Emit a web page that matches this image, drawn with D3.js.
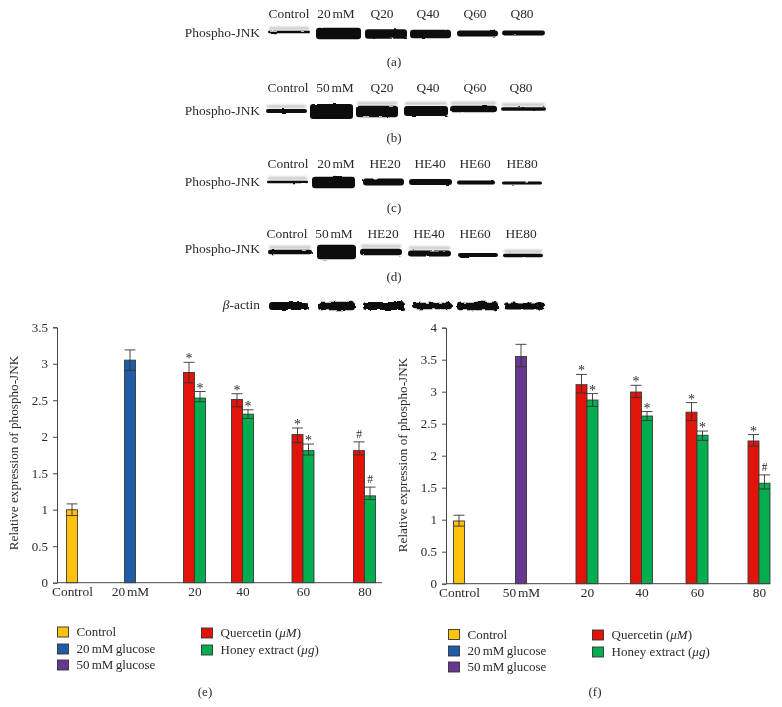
<!DOCTYPE html>
<html><head><meta charset="utf-8">
<script src="https://cdn.jsdelivr.net/npm/d3@7/dist/d3.min.js"></script>
<style>
html,body{margin:0;padding:0;background:#fff}
svg{opacity:.999}
text{font-family:"Liberation Serif",serif;fill:#2a2a2a}
</style></head><body>
<svg id="c" width="782" height="707"></svg>
<script>
// ---- data ----
const panelELabels = ["Control","20 mM","20","40","60","80"];
const panelFLabels = ["Control","50 mM","20","40","60","80"];
const seriesNames = ["Control","20 mM glucose","50 mM glucose","Quercetin","Honey extract"];

const eSingle   = [1.00, 3.05];
const eSingleHi = [1.08, 3.19];
const eSingleLo = [0.92, 2.91];
const eQuer     = [2.88, 2.51, 2.03, 1.81];
const eQuerHi   = [3.02, 2.59, 2.12, 1.93];
const eQuerLo   = [2.74, 2.41, 1.92, 1.75];
const eHoney    = [2.53, 2.31, 1.81, 1.19];
const eHoneyHi  = [2.62, 2.37, 1.90, 1.31];
const eHoneyLo  = [2.48, 2.25, 1.75, 1.14];
const eQuerSig  = ["*","*","*","#"];
const eHoneySig = ["*","*","*","#"];

const fSingle   = [0.98, 3.55];
const fSingleHi = [1.07, 3.74];
const fSingleLo = [0.90, 3.39];
const fQuer     = [3.11, 2.995, 2.68, 2.23];
const fQuerHi   = [3.27, 3.10, 2.83, 2.33];
const fQuerLo   = [2.98, 2.91, 2.55, 2.15];
const fHoney    = [2.87, 2.62, 2.32, 1.57];
const fHoneyHi  = [2.97, 2.69, 2.385, 1.70];
const fHoneyLo  = [2.77, 2.55, 2.24, 1.48];
const fQuerSig  = ["*","*","*","*"];
const fHoneySig = ["*","*","*","#"];

const blotALabels = ["Control","20 mM","Q20","Q40","Q60","Q80"];
const blotBLabels = ["Control","50 mM","Q20","Q40","Q60","Q80"];
const blotCLabels = ["Control","20 mM","HE20","HE40","HE60","HE80"];
const blotDLabels = ["Control","50 mM","HE20","HE40","HE60","HE80"];
const blotASignal = [0.15,0.72,0.58,0.52,0.36,0.30];
const blotBSignal = [0.25,0.95,0.72,0.62,0.42,0.22];
const blotCSignal = [0.16,0.72,0.44,0.36,0.24,0.20];
const blotDSignal = [0.28,0.92,0.42,0.38,0.26,0.22];
const actinSignal = [0.50,0.52,0.50,0.42,0.52,0.44];

// ---- layout ----
const W = 782, H = 707;
const svg = d3.select("#c").attr("viewBox",[0,0,W,H]);
const colors = d3.scaleOrdinal(seriesNames,["#ffc20e","#1f5ca8","#66388f","#e2140a","#00ae50"]);
const defs = svg.append("defs");
function roughFilter(id,scale,freq){
  const f = defs.append("filter").attr("id",id).attr("x","-10%").attr("y","-60%").attr("width","120%").attr("height","220%");
  f.append("feTurbulence").attr("type","fractalNoise").attr("baseFrequency",freq).attr("numOctaves",2).attr("seed",4).attr("result","n");
  f.append("feDisplacementMap").attr("in","SourceGraphic").attr("in2","n").attr("scale",scale).attr("result","d");
  f.append("feGaussianBlur").attr("in","d").attr("stdDeviation",0.65);
}
roughFilter("rough",2.2,"0.1 0.2");
roughFilter("rougher",5,"0.16 0.2");
const soft = defs.append("filter").attr("id","soft").attr("x","-5%").attr("y","-80%").attr("width","110%").attr("height","260%");
soft.append("feGaussianBlur").attr("stdDeviation",0.9);

// the thin space in "20 mM" is drawn by tightening only those labels
function tighten(sel){ sel.style("word-spacing",d=>null); sel.each(function(){ if(/mM/.test(this.textContent)) d3.select(this).style("word-spacing","-1.5px"); }); return sel; }
function label(x,y,t,size,anchor){
  return tighten(svg.append("text").attr("x",x).attr("y",y).attr("font-size",size||13.4).attr("text-anchor",anchor||"middle").text(t));
}

// ---- western blots ----
const band = d3.scaleLinear().domain([0,1]).range([0,16]);
const blots = [
 {name:"Phospho-JNK",labels:blotALabels,signal:blotASignal,labelX:[289,336,382,428,475,522],labelY:18,nameY:37,
  lane:[[268,310],[316,361],[365,407],[410,451],[457,498],[502,545]],cy:[32,33.5,34,34,33.5,33],ghost:[1,0,0,0,0,0],cap:"(a)",capY:66},
 {name:"Phospho-JNK",labels:blotBLabels,signal:blotBSignal,labelX:[288,335,382,428,475,521],labelY:92,nameY:115,
  lane:[[266,307],[310,353],[356,398],[404,448],[450,497],[501,546]],cy:[111,111.5,111.5,111,109,109],ghost:[1,0,1,1,1,1],cap:"(b)",capY:142},
 {name:"Phospho-JNK",labels:blotCLabels,signal:blotCSignal,labelX:[288,336,385,430,475,522],labelY:168,nameY:186,
  lane:[[267,308],[312,355],[363,404],[409,452],[457,495],[502,542]],cy:[182,182.5,182,182,182.5,183],ghost:[1,0,0,0,0,0],cap:"(c)",capY:212},
 {name:"Phospho-JNK",labels:blotDLabels,signal:blotDSignal,labelX:[287,334,383,429,475,521],labelY:238,nameY:253,
  lane:[[268,312],[317,356],[360,402],[408,451],[458,498],[503,543]],cy:[252,252,252,253.5,255,255.5],ghost:[1,0,1,1,0,1],cap:"(d)",capY:281},
 {name:"\u03b2-actin",labels:null,signal:actinSignal,nameY:309,rough:"rougher",
  lane:[[269,308],[318,355],[363,405],[413,452],[457,498],[504,545]],cy:[306,306,306,306,306,306],ghost:[0,0,0,0,0,0]}
];
blots.forEach(b=>{
  const n = label(260,b.nameY,"",13.4,"end");
  if(b.name.startsWith("\u03b2")){
    n.append("tspan").attr("font-style","italic").text("\u03b2");
    n.append("tspan").text("-actin");
  } else n.text(b.name);
  if(b.labels) b.labels.forEach((t,i)=>label(b.labelX[i],b.labelY,t,13.4));
  b.signal.forEach((s,i)=>{
    const [x0,x1]=b.lane[i], h=band(s);
    if(b.ghost[i]) svg.append("rect").attr("x",x0+1).attr("width",x1-x0-2).attr("y",b.cy[i]-h/2-4).attr("height",3)
      .attr("fill","#999").attr("opacity",.55).attr("filter","url(#soft)");
    svg.append("rect").attr("x",x0).attr("width",x1-x0).attr("y",b.cy[i]-h/2).attr("height",h).attr("rx",Math.min(h/2,3))
      .attr("fill","#0c0c0c").attr("filter",`url(#${b.rough||"rough"})`);
  });
  if(b.cap) label(394,b.capY,b.cap,13);
});

// ---- bar charts ----
function barChart(o){
  const y = d3.scaleLinear().domain([0,o.max]).range([o.y0,o.yTop]);
  const x = d3.scaleOrdinal(o.labels,o.centers);
  const g = svg.append("g");
  const bw = o.barW;
  const bars = [];
  o.single.forEach((v,i)=>bars.push({c:x(o.labels[i]),v,hi:o.singleHi[i],lo:o.singleLo[i],col:colors(i===0?"Control":o.midSeries),off:0}));
  o.quer.forEach((v,i)=>bars.push({c:x(o.labels[i+2]),v,hi:o.querHi[i],lo:o.querLo[i],col:colors("Quercetin"),off:-bw/2,sig:o.querSig[i]}));
  o.honey.forEach((v,i)=>bars.push({c:x(o.labels[i+2]),v,hi:o.honeyHi[i],lo:o.honeyLo[i],col:colors("Honey extract"),off:bw/2,sig:o.honeySig[i]}));
  g.selectAll("rect.b").data(bars).join("rect").attr("class","b")
    .attr("x",d=>d.c+d.off-bw/2).attr("width",bw).attr("y",d=>y(d.v)).attr("height",d=>y(0)-y(d.v))
    .attr("fill",d=>d.col).attr("stroke","#3a3a3a").attr("stroke-width",.9);
  const eb = g.selectAll("g.e").data(bars).join("g").attr("class","e").attr("stroke","#333").attr("stroke-width",.9);
  eb.append("line").attr("x1",d=>d.c+d.off).attr("x2",d=>d.c+d.off).attr("y1",d=>y(d.hi)).attr("y2",d=>y(d.lo));
  eb.append("line").attr("x1",d=>d.c+d.off-bw/2).attr("x2",d=>d.c+d.off+bw/2).attr("y1",d=>y(d.hi)).attr("y2",d=>y(d.hi));
  eb.append("line").attr("x1",d=>d.c+d.off-bw/2).attr("x2",d=>d.c+d.off+bw/2).attr("y1",d=>y(d.lo)).attr("y2",d=>y(d.lo));
  g.selectAll("text.s").data(bars.filter(d=>d.sig)).join("text").attr("class","s")
    .attr("x",d=>d.c+d.off).attr("y",d=>y(d.hi)-(d.sig==="*"?-1:4)).attr("text-anchor","middle")
    .attr("font-size",d=>d.sig==="*"?14:11.5).text(d=>d.sig);

  const ya = svg.append("g").attr("transform",`translate(${o.axisX},0)`)
    .call(d3.axisLeft(y).tickValues(d3.range(0,o.max+.01,.5)).tickSize(4).tickPadding(5).tickFormat(d3.format("~g")));
  ya.selectAll("path,line").attr("stroke","#444");
  ya.selectAll("text").attr("font-size",13).attr("font-family",'"Liberation Serif",serif').attr("fill","#2a2a2a");
  svg.append("line").attr("x1",o.axisX).attr("x2",o.axisEnd).attr("y1",o.y0).attr("y2",o.y0).attr("stroke","#444");
  const xa = svg.append("g").attr("transform",`translate(0,${o.y0})`)
    .call(d3.axisBottom(x).tickSize(0).tickPadding(4));
  xa.select("path").remove();
  xa.selectAll("text").attr("font-size",13.4).attr("font-family",'"Liberation Serif",serif').attr("fill","#2a2a2a").call(tighten);
  svg.append("text").attr("transform",`translate(${o.titleX},${o.titleY}) rotate(-90)`).attr("text-anchor","middle")
    .attr("font-size",13.2).text("Relative expression of phospho-JNK");

  // legend
  const leg = [
    {n:"Control",t:"Control",x:o.l1,y:o.ly[0]},
    {n:"20 mM glucose",t:"20 mM glucose",x:o.l1,y:o.ly[1]},
    {n:"50 mM glucose",t:"50 mM glucose",x:o.l1,y:o.ly[2]},
    {n:"Quercetin",t:"Quercetin (",u:"\u03bcM",x:o.l2,y:o.ly[3]},
    {n:"Honey extract",t:"Honey extract (",u:"\u03bcg",x:o.l2,y:o.ly[4]}
  ];
  leg.forEach(d=>{
    svg.append("rect").attr("x",d.x).attr("y",d.y-5).attr("width",11).attr("height",10)
      .attr("fill",colors(d.n)).attr("stroke","#333").attr("stroke-width",.9);
    const t = svg.append("text").attr("x",d.x+19).attr("y",d.y+4).attr("font-size",13).text(d.t);
    if(/mM/.test(d.t)) t.style("word-spacing","-1px");
    if(d.u){ t.append("tspan").attr("font-style","italic").text(d.u); t.append("tspan").text(")"); }
  });
  label(o.capX,o.capY,o.cap,13);
}

barChart({labels:panelELabels,centers:[72,130,194.5,242.5,303,364.5],max:3.5,y0:582.7,yTop:327.3,barW:11,axisX:57,axisEnd:382,
  single:eSingle,singleHi:eSingleHi,singleLo:eSingleLo,midSeries:"20 mM glucose",
  quer:eQuer,querHi:eQuerHi,querLo:eQuerLo,querSig:eQuerSig,honey:eHoney,honeyHi:eHoneyHi,honeyLo:eHoneyLo,honeySig:eHoneySig,
  titleX:18,titleY:453,l1:57.5,l2:201.5,ly:[632,649,665,633,650],cap:"(e)",capX:205,capY:696});
barChart({labels:panelFLabels,centers:[459,521,587,641.5,697,759],max:4,y0:583.7,yTop:327.7,barW:11,axisX:446,axisEnd:770,
  single:fSingle,singleHi:fSingleHi,singleLo:fSingleLo,midSeries:"50 mM glucose",
  quer:fQuer,querHi:fQuerHi,querLo:fQuerLo,querSig:fQuerSig,honey:fHoney,honeyHi:fHoneyHi,honeyLo:fHoneyLo,honeySig:fHoneySig,
  titleX:407,titleY:455,l1:448.5,l2:592.5,ly:[634.5,651,667,635,652],cap:"(f)",capX:595,capY:696});
</script>
</body></html>
